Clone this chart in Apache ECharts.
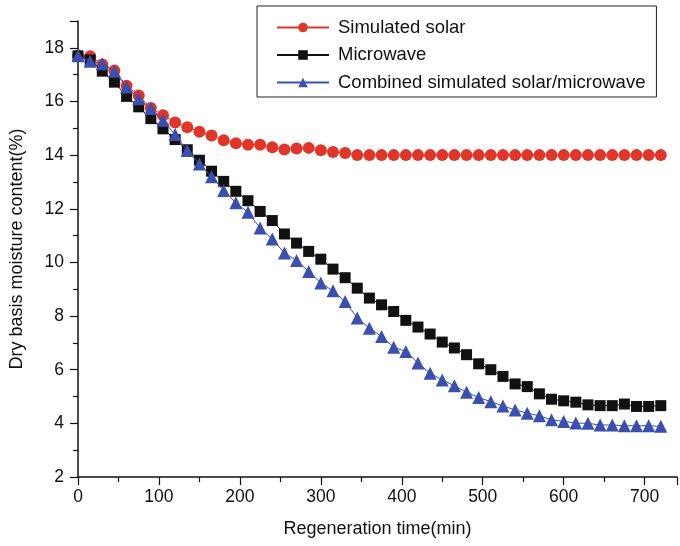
<!DOCTYPE html>
<html>
<head>
<meta charset="utf-8">
<script src="https://cdn.jsdelivr.net/npm/echarts@6/dist/echarts.min.js"></script>
<style>
html,body{margin:0;padding:0;background:#fff;}
#c{width:680px;height:546px;}
</style>
</head>
<body>
<div id="c"></div>
<script>
const times = [0,15,30,45,60,75,90,105,120,135,150,165,180,195,210,225,240,255,270,285,300,315,330,345,360,375,390,405,420,435,450,465,480,495,510,525,540,555,570,585,600,615,630,645,660,675,690,705,720];
const solar = [17.7,17.69,17.38,17.15,16.59,16.22,15.76,15.49,15.22,15.04,14.87,14.73,14.55,14.44,14.39,14.39,14.29,14.21,14.25,14.27,14.18,14.12,14.08,14.0,14.0,14.0,14.0,14.0,14.0,14.0,14.0,14.0,14.0,14.0,14.0,14.0,14.0,14.0,14.0,14.0,14.0,14.0,14.0,14.0,14.0,14.0,14.0,14.0,14.0];
const microwave = [17.7,17.55,17.13,16.72,16.19,15.8,15.36,14.98,14.58,14.2,13.81,13.4,13.02,12.65,12.3,11.9,11.56,11.06,10.72,10.41,10.12,9.75,9.43,9.04,8.67,8.42,8.17,7.84,7.59,7.33,7.03,6.81,6.56,6.22,6.0,5.75,5.47,5.37,5.1,4.9,4.84,4.79,4.69,4.66,4.66,4.72,4.63,4.63,4.66];
const combined = [17.7,17.5,17.41,17.13,16.54,16.1,15.74,15.3,14.77,14.17,13.67,13.19,12.68,12.22,11.87,11.28,10.87,10.35,10.07,9.66,9.23,8.94,8.54,7.93,7.55,7.24,6.84,6.68,6.25,5.87,5.62,5.4,5.16,4.96,4.81,4.65,4.5,4.38,4.28,4.13,4.07,4.01,4.0,3.94,3.94,3.91,3.91,3.91,3.89];
const seriesNames = ['Simulated solar','Microwave','Combined simulated solar/microwave'];
const xTitle = 'Regeneration time(min)';
const yTitle = 'Dry basis moisture content(%)';

const pair = (arr) => times.map((t,i)=>[t,arr[i]]);
const font = 'Liberation Sans, Arial, sans-serif';
const chart = echarts.init(document.getElementById('c'));
chart.setOption({
  animation:false,
  backgroundColor:'#fff',
  textStyle:{fontFamily:font},
  grid:{left:77,right:1,top:21,bottom:69},
  legend:{
    orient:'vertical',
    left:257, top:6,
    padding:[12,11,5,19],
    itemGap:8.5,
    itemWidth:52, itemHeight:12,
    borderColor:'#222', borderWidth:1,
    textStyle:{fontSize:18.5,color:'#111',fontFamily:font,padding:[0,0,0,4]},
    data:seriesNames
  },
  xAxis:{
    type:'value', min:0, max:740, interval:100,
    name:xTitle, nameLocation:'middle', nameGap:43,
    nameTextStyle:{fontSize:18,color:'#111',fontFamily:font},
    axisLine:{lineStyle:{color:'#111',width:1.5}},
    axisTick:{show:true,length:8,lineStyle:{color:'#111',width:1.2}},
    minorTick:{show:true,splitNumber:2,length:5,lineStyle:{color:'#111',width:1.2}},
    axisLabel:{fontSize:17.5,color:'#111',margin:11,fontFamily:font,
      formatter:v=> v%100===0 && v<=700 ? String(v) : ''},
    splitLine:{show:false}
  },
  yAxis:{
    type:'value', min:2, max:19, interval:2,
    name:yTitle, nameLocation:'middle', nameGap:52, nameRotate:90,
    nameTextStyle:{fontSize:18,color:'#111',fontFamily:font},
    axisLine:{lineStyle:{color:'#111',width:1.5}},
    axisTick:{show:true,length:8,lineStyle:{color:'#111',width:1.2}},
    minorTick:{show:true,splitNumber:2,length:5,lineStyle:{color:'#111',width:1.2}},
    axisLabel:{fontSize:17.5,color:'#111',margin:14,fontFamily:font,
      formatter:v=> v%2===0 && v<=18 ? String(v) : ''},
    splitLine:{show:false}
  },
  series:[
    {name:seriesNames[0],type:'line',data:pair(solar),symbol:'circle',symbolSize:12,
     itemStyle:{color:'#e0362a'},lineStyle:{color:'#e0362a',width:1},z:3},
    {name:seriesNames[1],type:'line',data:pair(microwave),symbol:'rect',symbolSize:11,
     itemStyle:{color:'#111111'},lineStyle:{color:'#111111',width:1},z:4},
    {name:seriesNames[2],type:'line',data:pair(combined),symbol:'triangle',symbolSize:13,
     itemStyle:{color:'#3a4fae'},lineStyle:{color:'#3a4fae',width:1},z:5}
  ]
});
</script>
</body>
</html>
